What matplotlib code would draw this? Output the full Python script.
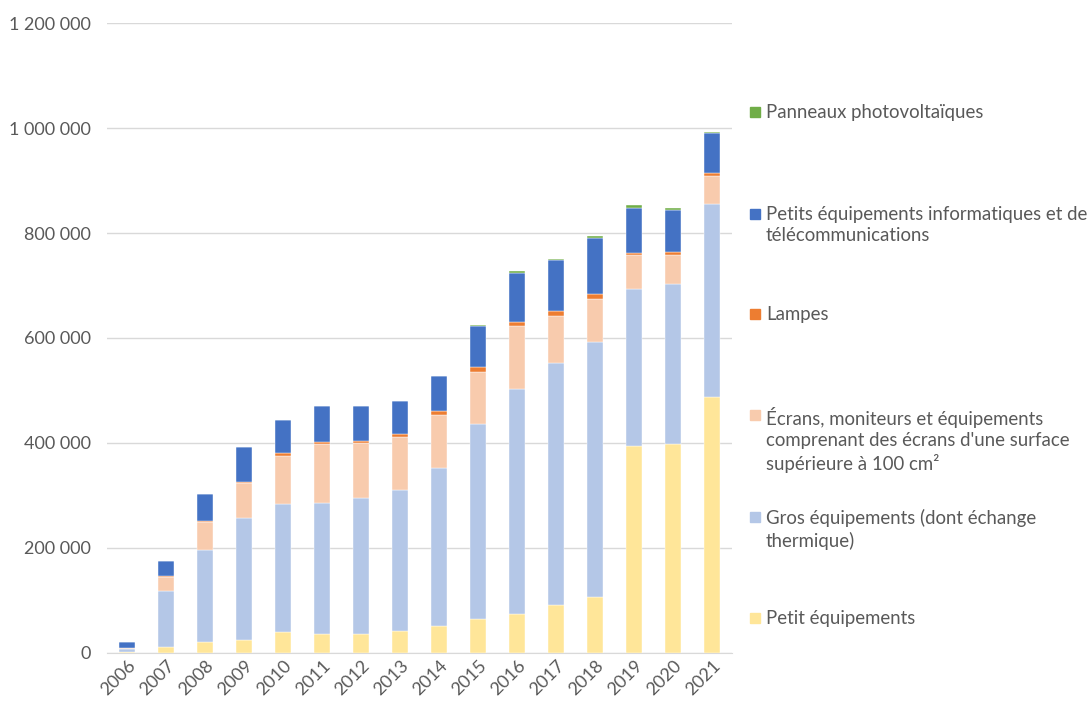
import numpy as np
import matplotlib.pyplot as plt
from matplotlib.ticker import FuncFormatter
from matplotlib.patches import Rectangle

plt.rcParams['font.family'] = ['Lato', 'DejaVu Sans']

annees = [str(a) for a in range(2006, 2022)]

petit_equipements = [1500, 11400, 20200, 25300, 40000, 35400, 35400, 42500, 51400,
                     64000, 74900, 92000, 106700, 394000, 398700, 486700]
gros_equipements = [7000, 107300, 176000, 231800, 243100, 249600, 260400, 268600, 301000,
                    372800, 428600, 459700, 486000, 300000, 304600, 368000]
ecrans = [1000, 25300, 53900, 66700, 92800, 112400, 103400, 99600, 101500,
          99100, 118700, 90300, 82000, 63300, 54000, 53300]
lampes = [500, 2000, 2000, 2500, 4400, 5100, 5100, 6500, 6300,
          9000, 9000, 8800, 9300, 4000, 6700, 6000]
petits_info = [11000, 28600, 50900, 66700, 63600, 68600, 66700, 62900, 67400,
               77300, 93300, 97200, 106000, 86000, 79300, 76000]
panneaux_pv = [0, 0, 0, 0, 0, 0, 0, 0, 0,
               2700, 2500, 2700, 4000, 6700, 4000, 2700]

series = [
    ("Petit équipements", petit_equipements, "#FFE699"),
    ("Gros équipements (dont échange\nthermique)", gros_equipements, "#B4C7E7"),
    ("Écrans, moniteurs et équipements\ncomprenant des écrans d'une surface\nsupérieure à 100 cm²", ecrans, "#F8CBAD"),
    ("Lampes", lampes, "#ED7D31"),
    ("Petits équipements informatiques et de\ntélécommunications", petits_info, "#4472C4"),
    ("Panneaux photovoltaïques", panneaux_pv, "#70AD47"),
]

fig = plt.figure(figsize=(10.91, 7.08), dpi=100)
ax = fig.add_axes([0.0985, 0.0777, 0.572, 0.8898])

x = np.arange(len(annees))
bas = np.zeros(len(annees))
for nom, valeurs, couleur in series:
    ax.bar(x, valeurs, 0.41, bottom=bas, color=couleur, edgecolor='white', linewidth=0.3, zorder=3)
    bas += np.array(valeurs)

ax.set_xlim(-0.5, len(annees) - 0.5)
ax.set_ylim(0, 1200000)
ax.set_yticks(np.arange(0, 1200001, 200000))
ax.yaxis.set_major_formatter(FuncFormatter(lambda v, p: f"{int(v):,}".replace(",", " ")))
ax.grid(axis='y', color='#D9D9D9', linewidth=1, zorder=0)
for s in ['top', 'right', 'left']:
    ax.spines[s].set_visible(False)
ax.spines['bottom'].set_color('#D9D9D9')
ax.tick_params(axis='both', length=0, colors='#595959', labelsize=13)
ax.tick_params(axis='y', pad=12)
ax.set_xticks(x)
ax.set_xticklabels(annees, rotation=45, ha='right', rotation_mode='anchor')

# légende à droite, une entrée par série
positions = [618, 517, 415, 314, 214, 112]
for (nom, valeurs, couleur), ypix in zip(series, positions):
    yf = 1 - ypix / 708
    fig.patches.append(Rectangle((750 / 1091, yf - 5 / 708), 10 / 1091, 10 / 708,
                                 transform=fig.transFigure, color=couleur))
    fig.text(766 / 1091, yf + 8 / 708, nom, va='top', ha='left', fontsize=13.4,
             color='#595959', linespacing=1.3)

fig.savefig('out.png', dpi=100)
